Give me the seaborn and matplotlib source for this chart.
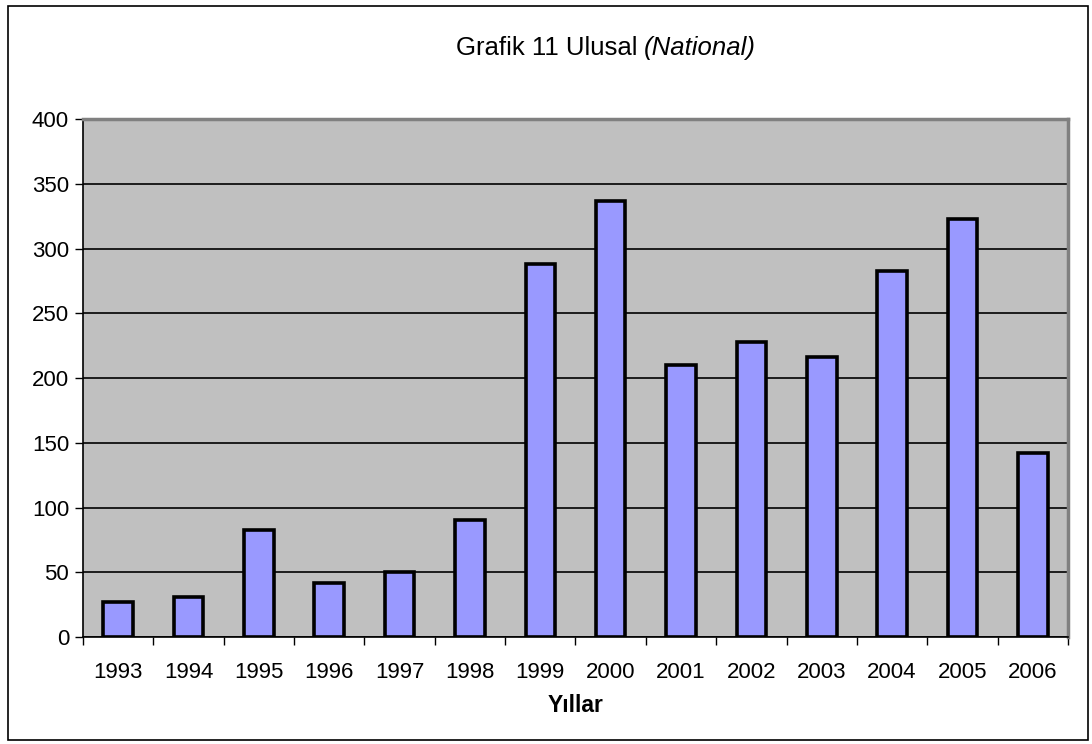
import numpy as np
import pandas as pd
import seaborn as sns
import matplotlib.pyplot as plt
from matplotlib.patches import Rectangle

years = ['1993', '1994', '1995', '1996', '1997', '1998', '1999',
         '2000', '2001', '2002', '2003', '2004', '2005', '2006']
counts = [27, 31, 83, 42, 50, 90, 288, 337, 210, 228, 216, 283, 323, 142]

df = pd.DataFrame({'year': years, 'count': counts})

sns.set_theme(style="white")
plt.rcParams['font.family'] = ['Liberation Sans', 'DejaVu Sans']
plt.rcParams['text.color'] = 'black'
plt.rcParams['xtick.color'] = 'black'
plt.rcParams['ytick.color'] = 'black'
plt.rcParams['axes.labelcolor'] = 'black'

fig = plt.figure(figsize=(10.92, 7.44), dpi=100)
ax = fig.add_axes([0.076, 0.1438, 0.902, 0.6962])
ax.set_facecolor('#C0C0C0')

sns.barplot(data=df, x='year', y='count', color='#9999FF', saturation=1,
            width=0.42, edgecolor='black', linewidth=2.6, ax=ax, zorder=3)

ax.set_ylim(0, 400)
ax.set_xlim(-0.5, len(years) - 0.5)
ax.set_yticks(np.arange(0, 401, 50))
ax.yaxis.grid(True, color='black', linewidth=1.2, zorder=1)
ax.set_axisbelow(True)

# category boundary ticks on x axis
ax.set_xticks(np.arange(-0.5, len(years), 1.0), minor=True)
ax.tick_params(axis='x', which='major', length=0, pad=18, labelsize=16)
ax.tick_params(axis='x', which='minor', length=6, width=1, color='black',
               direction='out', bottom=True)
ax.tick_params(axis='y', length=6, width=1, color='black', direction='out',
               left=True, labelsize=16, pad=4)

for s in ['left', 'bottom']:
    ax.spines[s].set_color('black')
    ax.spines[s].set_linewidth(1.2)
for s in ['top', 'right']:
    ax.spines[s].set_color('#808080')
    ax.spines[s].set_linewidth(2.5)

ax.set_ylabel('')
ax.set_xlabel('Yıllar', fontsize=16.5, fontweight='bold', labelpad=8)

# title: regular + italic part
fig.text(0.59, 0.936, 'Grafik 11 Ulusal ', fontsize=18.5, ha='right', va='center')
fig.text(0.59, 0.936, '(National)', fontsize=18.5, style='italic', ha='left', va='center')

# outer frame
fig.patches.append(Rectangle((8 / 1092, 4 / 744), 1080 / 1092, 734 / 744,
                             transform=fig.transFigure, fill=False,
                             edgecolor='black', linewidth=1.2))

plt.savefig('out.png', dpi=100)
